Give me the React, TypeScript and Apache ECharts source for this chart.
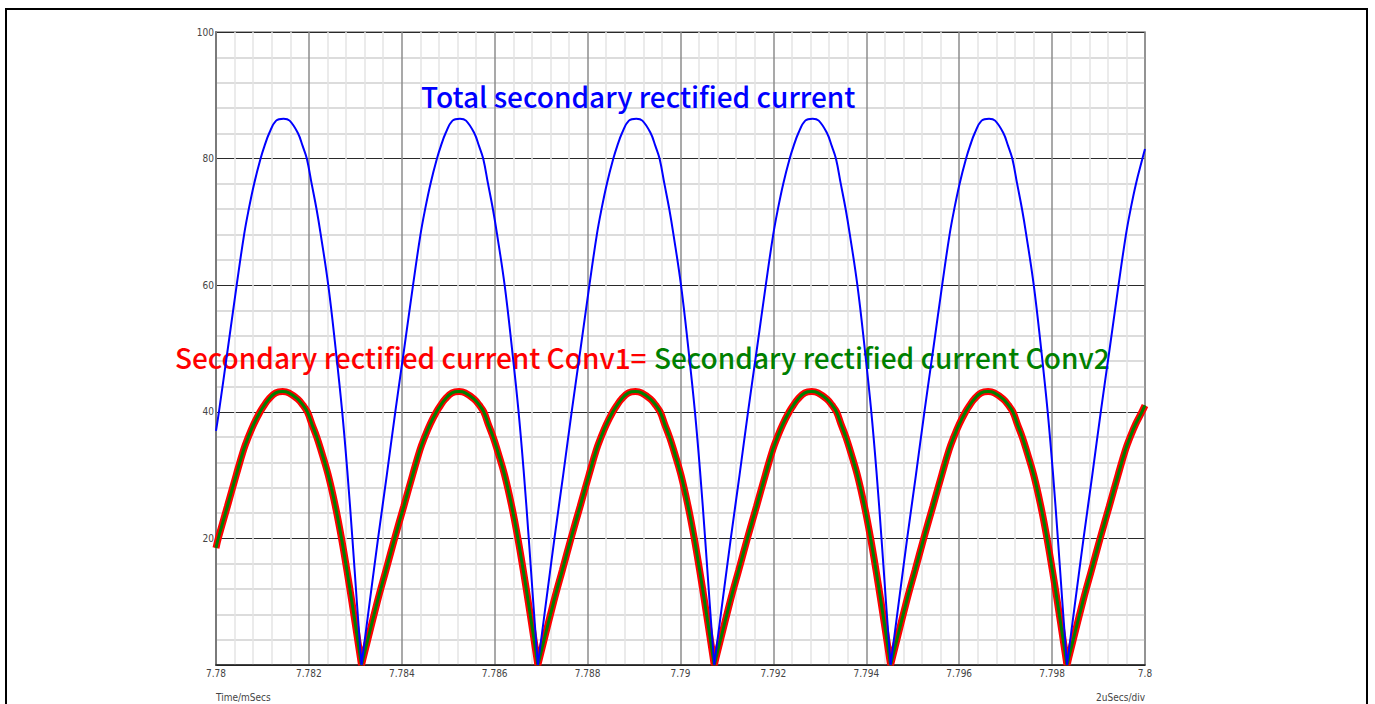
import React, { useEffect, useRef } from "react";
import * as echarts from "echarts";

// Axis range (ms) and tick labels
const X_START_MS = 7.78;
const X_END_MS = 7.8;
const X_TICK_STEP_US = 2;
const Y_TICKS = [20, 40, 60, 80, 100];

// Zero crossings (cusps) of the rectified currents (ms)
const zeroTimesMs = [7.779335, 7.783132, 7.786929, 7.790726, 7.794523, 7.79832];

// One rectified half-cycle of the total current, offsets (us) after a zero crossing
const blueCycleOffsetUs = [0, 0.178, 0.357, 0.545, 0.728, 0.92, 1.11, 1.27, 1.37, 1.485, 1.625, 1.71, 1.81, 1.96, 2.12, 2.25, 2.43, 2.53, 2.62, 2.725, 2.83, 2.92, 3.082, 3.24, 3.382, 3.499, 3.601, 3.697, 3.797];
const blueCycleValues = [0, 10, 20, 30, 40, 50, 60, 68, 72, 76, 80, 82, 84, 86, 86.3, 86, 84, 82, 80, 76, 72, 68, 60, 50, 40, 30, 20, 10, 0];
const blueEdgeValues = [37, 81.5]; // at 7.78 and 7.8

// Conv1 secondary current half-cycle
const redCycleOffsetUs = [0, 0.342, 0.528, 0.714, 0.908, 1.1, 1.26, 1.36, 1.475, 1.615, 1.7, 1.8, 1.95, 2.1, 2.233, 2.426, 2.541, 2.632, 2.732, 2.835, 2.922, 3.082, 3.237, 3.367, 3.482, 3.59, 3.797];
const redCycleValues = [0, 10, 15, 20, 25, 30, 34, 36, 38, 40, 41, 42, 43, 43.2, 43, 42, 41, 40, 38, 36, 34, 30, 25, 20, 15, 10, 0];
const redEdgeValues = [18.5, 41];

// Conv2 secondary current half-cycle (identical to Conv1)
const greenCycleOffsetUs = [0, 0.342, 0.528, 0.714, 0.908, 1.1, 1.26, 1.36, 1.475, 1.615, 1.7, 1.8, 1.95, 2.1, 2.233, 2.426, 2.541, 2.632, 2.732, 2.835, 2.922, 3.082, 3.237, 3.367, 3.482, 3.59, 3.797];
const greenCycleValues = [0, 10, 15, 20, 25, 30, 34, 36, 38, 40, 41, 42, 43, 43.2, 43, 42, 41, 40, 38, 36, 34, 30, 25, 20, 15, 10, 0];
const greenEdgeValues = [18.5, 41];

const RANGE_US = (X_END_MS - X_START_MS) * 1000;

function buildSeries(offsets: number[], values: number[], edges: number[]) {
  const pts: any[] = [[0, edges[0]]];
  zeroTimesMs.forEach((z, k) => {
    const zUs = (z - X_START_MS) * 1000;
    if (k > 0) pts.push(null); // break between half-cycles keeps the cusps sharp
    offsets.forEach((o, i) => {
      const x = zUs + o;
      if (x > 0 && x < RANGE_US) pts.push([x, values[i]]);
    });
  });
  pts.push([RANGE_US, edges[1]]);
  return pts;
}

const labelFont = "'Liberation Sans Narrow', 'DejaVu Sans Condensed', 'Liberation Sans', sans-serif";
const bigFont = "'Noto Sans CJK SC', 'Noto Sans', sans-serif";
const bigStyle = `500 28px ${bigFont}`;

export default function App() {
  const ref = useRef<HTMLDivElement>(null);
  useEffect(() => {
    if (!ref.current) return;
    const chart = echarts.init(ref.current, null, { renderer: "svg" });
    chart.setOption({
      animation: false,
      backgroundColor: "#ffffff",
      grid: {
        left: 216,
        top: 32,
        right: 230,
        bottom: 39,
        show: true,
        borderColor: "#8a8a8a",
        borderWidth: 1.5,
        backgroundColor: "transparent",
      },
      xAxis: {
        type: "value",
        min: 0,
        max: RANGE_US,
        interval: X_TICK_STEP_US,
        axisLine: { show: true, onZero: false, lineStyle: { color: "#222", width: 1.5 } },
        axisTick: { show: false },
        axisLabel: {
          margin: 3,
          fontSize: 10,
          color: "#444",
          fontFamily: labelFont,
          formatter: (v: number) => String(parseFloat((X_START_MS + v / 1000).toFixed(3))),
        },
        splitLine: { show: true, lineStyle: { color: "#8c8c8c", width: 1.5 } },
        minorTick: { show: false, splitNumber: 5 },
        minorSplitLine: { show: true, lineStyle: { color: "#e4e4e4", width: 1.5 } },
      },
      yAxis: {
        type: "value",
        min: 0,
        max: 100,
        interval: 20,
        axisLine: { show: true, lineStyle: { color: "#7a7a7a", width: 2 } },
        axisTick: { show: false },
        axisLabel: {
          margin: 2,
          fontSize: 10,
          color: "#444",
          fontFamily: labelFont,
          formatter: (v: number) => (Y_TICKS.indexOf(v) >= 0 ? String(v) : ""),
        },
        splitLine: { show: true, lineStyle: { color: "#2a2a2a", width: 1 } },
        minorTick: { show: false, splitNumber: 5 },
        minorSplitLine: { show: true, lineStyle: { color: "#d0d0d0", width: 1.5 } },
      },
      graphic: [
        {
          type: "rect",
          z: 0,
          shape: { x: 6, y: 9, width: 1361, height: 740 },
          style: { fill: "none", stroke: "#000", lineWidth: 2 },
          silent: true,
        },
        {
          type: "text",
          z: 1,
          x: 421,
          y: 96,
          style: { text: "Total secondary rectified current", fill: "#0000ff", font: bigStyle, textAlign: "left", textVerticalAlign: "middle" },
        },
        {
          type: "text",
          z: 1,
          x: 175,
          y: 357,
          style: { text: "Secondary rectified current Conv1=", fill: "#ff0000", font: bigStyle, textAlign: "left", textVerticalAlign: "middle" },
        },
        {
          type: "text",
          z: 1,
          x: 654,
          y: 357,
          style: { text: "Secondary rectified current Conv2", fill: "#008000", font: bigStyle, textAlign: "left", textVerticalAlign: "middle" },
        },
        {
          type: "text",
          z: 1,
          x: 216,
          y: 697,
          style: { text: "Time/mSecs", fill: "#444", font: `10px ${labelFont}`, textAlign: "left", textVerticalAlign: "middle" },
        },
        {
          type: "text",
          z: 1,
          x: 1145,
          y: 697,
          style: { text: "2uSecs/div", fill: "#444", font: `10px ${labelFont}`, textAlign: "right", textVerticalAlign: "middle" },
        },
      ],
      series: [
        {
          name: "Secondary rectified current Conv1",
          type: "line",
          z: 3,
          showSymbol: false,
          clip: true,
          smooth: 0.4,
          connectNulls: false,
          data: buildSeries(redCycleOffsetUs, redCycleValues, redEdgeValues),
          lineStyle: { color: "#ff0000", width: 7 },
        },
        {
          name: "Secondary rectified current Conv2",
          type: "line",
          z: 4,
          showSymbol: false,
          clip: true,
          smooth: 0.4,
          connectNulls: false,
          data: buildSeries(greenCycleOffsetUs, greenCycleValues, greenEdgeValues),
          lineStyle: { color: "#008000", width: 3 },
        },
        {
          name: "Total secondary rectified current",
          type: "line",
          z: 5,
          showSymbol: false,
          clip: true,
          smooth: 0.4,
          connectNulls: false,
          data: buildSeries(blueCycleOffsetUs, blueCycleValues, blueEdgeValues),
          lineStyle: { color: "#0000ff", width: 2 },
        },
      ],
    });
    return () => chart.dispose();
  }, []);
  return (
    <div
      ref={ref}
      style={{ position: "fixed", left: 0, top: 0, width: 1375, height: 704 }}
    />
  );
}
